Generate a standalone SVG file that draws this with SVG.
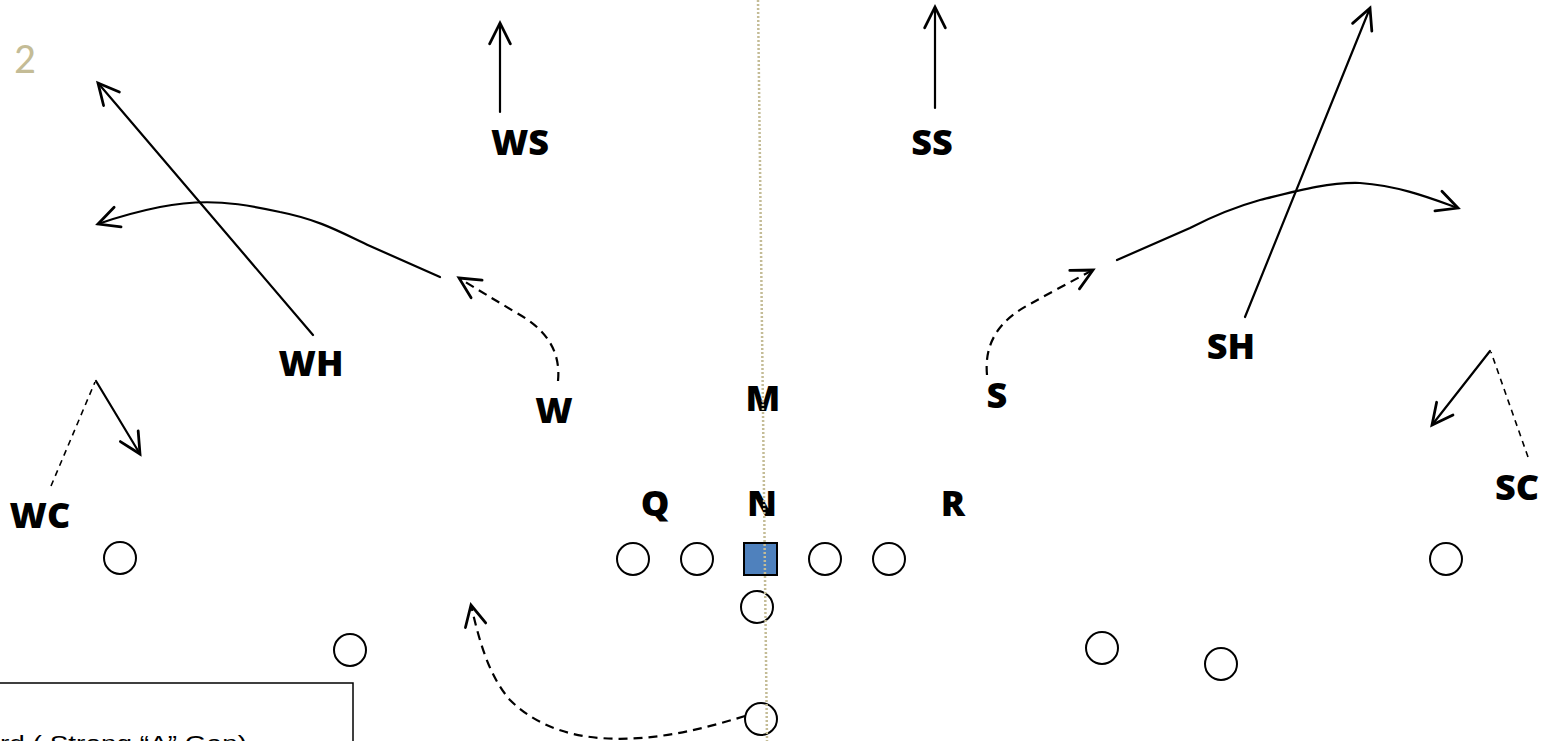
<svg xmlns="http://www.w3.org/2000/svg" width="1545" height="741" viewBox="0 0 1545 741">
<style>
.lbl{font-family:"Open Sans","Liberation Sans",sans-serif;font-weight:800;font-size:36px;fill:#000;text-anchor:middle}
.solid{fill:none;stroke:#000;stroke-width:2.2;stroke-linecap:round}
.dash{fill:none;stroke:#000;stroke-width:2.2;stroke-dasharray:9 6}
.thin{fill:none;stroke:#000;stroke-width:1.6;stroke-dasharray:6 5}
.pl{fill:#fff;stroke:#000;stroke-width:2}
</style>
<defs>
<marker id="ah" markerUnits="userSpaceOnUse" markerWidth="30" markerHeight="30" viewBox="-22 -12 26 24" refX="0" refY="0" orient="auto" overflow="visible">
<path d="M-18,-9 L0,0 L-18,9" fill="none" stroke="#000" stroke-width="2.4" stroke-dasharray="none" stroke-linecap="round" stroke-linejoin="miter"/>
</marker>
</defs>
<rect width="1545" height="741" fill="#fff"/>
<text x="25" y="73" font-family="Carlito,'Open Sans','Liberation Sans',sans-serif" font-size="43" fill="#c4bc96" text-anchor="middle">2</text>
<g id="note">
<rect x="-2" y="683" width="355" height="100" fill="#fff" stroke="#000" stroke-width="1.5"/>
<text x="0" y="751" font-family="'Liberation Sans',sans-serif" font-size="22" textLength="247" lengthAdjust="spacingAndGlyphs">rd  ( Strong “A” Gap)</text>
</g>
<g id="connectors">
<path class="solid" d="M500,112 L500,23" marker-end="url(#ah)"/>
<path class="solid" d="M935,108 L935,7" marker-end="url(#ah)"/>
<path class="solid" d="M313,335 L98,83" marker-end="url(#ah)"/>
<path class="solid" d="M440,277 L370,246 C340,232 320,220 280,212 C240,203 205,198 160,207 C135,212 115,218 98,224" marker-end="url(#ah)"/>
<path class="dash" d="M558,381 C561,350 545,328 515,312 C495,300 475,288 459,278" marker-end="url(#ah)"/>
<path class="dash" d="M987,375 C984,342 1000,320 1030,304 C1050,293 1072,281 1093,270" marker-end="url(#ah)"/>
<path class="solid" d="M1117,260 L1190,228 C1215,215 1235,207 1260,200 C1300,190 1330,182 1360,183 C1400,186 1430,198 1458,208" marker-end="url(#ah)"/>
<path class="solid" d="M1245,317 L1370,8" marker-end="url(#ah)"/>
<path class="thin" d="M51,486 L95,382"/>
<path class="solid" d="M96,381 L140,454" marker-end="url(#ah)"/>
<path class="thin" d="M1528,457 L1491,352"/>
<path class="solid" d="M1490,351 L1432,425" marker-end="url(#ah)"/>
<path class="dash" d="M745,716 C700,730 650,742 600,738 C560,735 530,720 510,700 C490,677 480,645 471,605" marker-end="url(#ah)"/>
</g>
<g id="WS"><text class="lbl" x="520" y="155">WS</text></g>
<g id="SS"><text class="lbl" x="932" y="155">SS</text></g>
<g id="WH"><text class="lbl" x="311" y="376">WH</text></g>
<g id="W"><text class="lbl" x="554" y="423">W</text></g>
<g id="M"><text class="lbl" x="763" y="411">M</text></g>
<g id="S"><text class="lbl" x="997" y="408">S</text></g>
<g id="SH"><text class="lbl" x="1231" y="359">SH</text></g>
<g id="Q"><text class="lbl" x="655" y="516">Q</text></g>
<g id="N"><text class="lbl" x="762" y="516">N</text></g>
<g id="R"><text class="lbl" x="953" y="516">R</text></g>
<g id="WC"><text class="lbl" x="40" y="528">WC</text></g>
<g id="SC"><text class="lbl" x="1517" y="500">SC</text></g>
<g id="o1"><circle class="pl" cx="120" cy="558" r="16"/></g>
<g id="o2"><circle class="pl" cx="633" cy="559" r="16"/></g>
<g id="o3"><circle class="pl" cx="697" cy="559" r="16"/></g>
<g id="center"><rect x="744" y="543" width="33" height="32" fill="#4f81bd" stroke="#000" stroke-width="2"/></g>
<g id="o4"><circle class="pl" cx="825" cy="559" r="16"/></g>
<g id="o5"><circle class="pl" cx="889" cy="559" r="16"/></g>
<g id="qb"><circle class="pl" cx="757" cy="607" r="16"/></g>
<g id="rb"><circle class="pl" cx="761" cy="719" r="16"/></g>
<g id="o6"><circle class="pl" cx="350" cy="650" r="16"/></g>
<g id="o7"><circle class="pl" cx="1102" cy="648" r="16"/></g>
<g id="o8"><circle class="pl" cx="1221" cy="664" r="16"/></g>
<g id="o9"><circle class="pl" cx="1446" cy="559" r="16"/></g>
<line id="centerline" x1="758" y1="0" x2="767" y2="741" stroke="#c4bc96" stroke-width="2.5" stroke-dasharray="2 2"/>
</svg>
